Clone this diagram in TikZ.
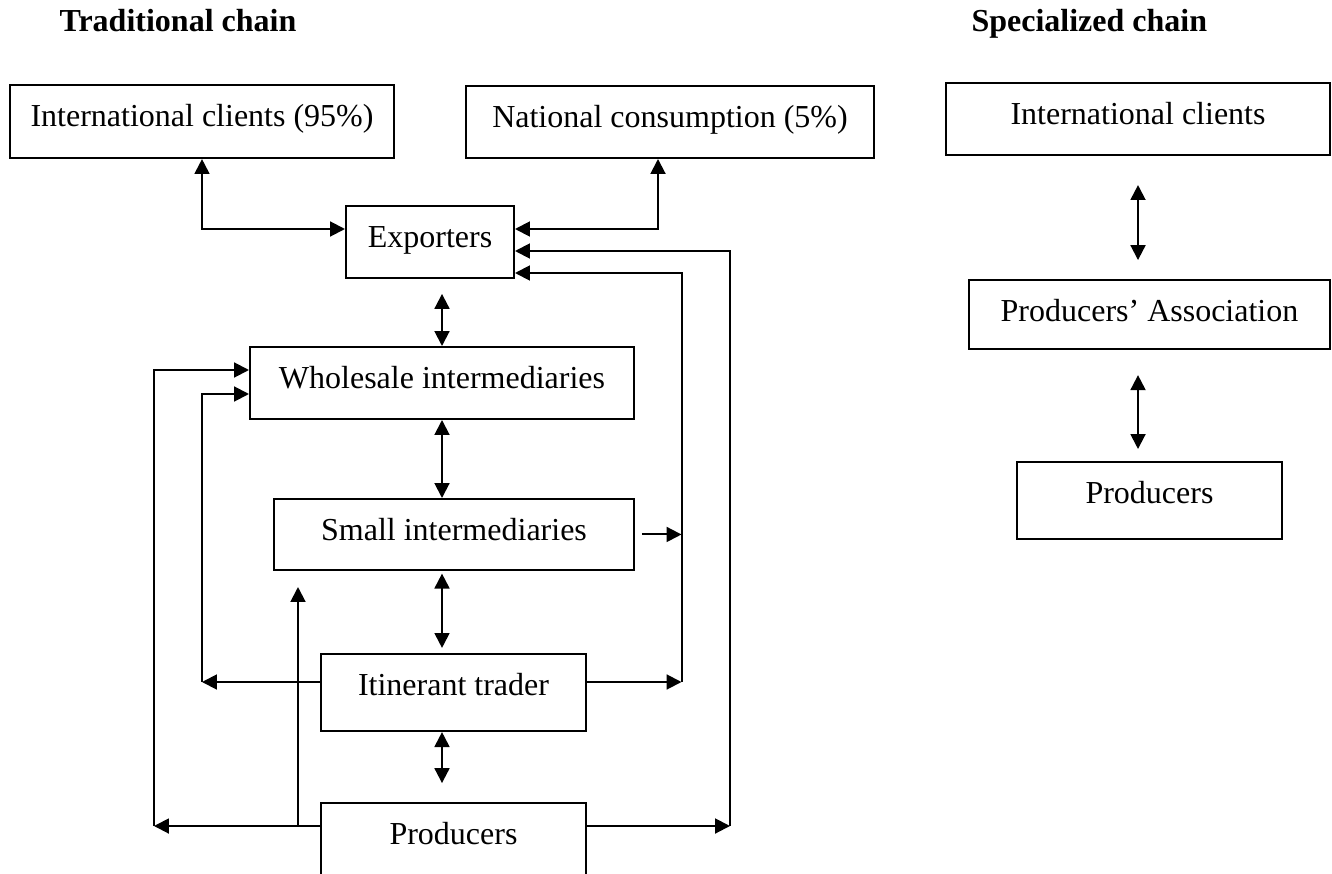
\documentclass[tikz,border=0pt]{standalone}
\usepackage{fontspec}
\setmainfont{Liberation Serif}
\usetikzlibrary{arrows.meta}

\tikzset{
    box/.style={draw, line width=0.75pt, inner sep=0pt, anchor=north, text height=15.6pt},
    link/.style={line width=0.75pt, >={Triangle[length=5.6pt,width=5.6pt]}},
    title/.style={anchor=base west, inner sep=0pt, font=\fontsize{12}{14}\selectfont\bfseries}
}

\begin{document}
\begin{tikzpicture}[x=0.375pt, y=-0.375pt, font=\fontsize{12}{14}\selectfont]
    \path[use as bounding box, clip] (0,0) rectangle (1332,873);

    % Titles
    \node[title] (tradtitle) at (59,32) {Traditional chain};
    \node[title] (spectitle) at (971,32) {Specialized chain};

    % Traditional chain
    \node[box, minimum width=144pt, text depth=11.8pt] (intl) at (202,84) {International clients (95\%)};
    \node[box, minimum width=153pt, text depth=11.4pt] (natl) at (670,85) {National consumption (5\%)};
    \node[box, minimum width=63pt, text depth=11.4pt] (exp) at (430,205) {Exporters};
    \node[box, minimum width=144pt, text depth=11.4pt] (whole) at (442,346) {Wholesale intermediaries};
    \node[box, minimum width=135pt, text depth=11.0pt] (small) at (454,498) {Small intermediaries};
    \node[box, minimum width=99.4pt, text depth=13.3pt] (itin) at (453.5,653) {Itinerant trader};
    \node[box, minimum width=99.4pt, text depth=20pt] (prodT) at (453.5,802) {Producers};

    % Specialized chain
    \node[box, minimum width=144pt, text depth=11.4pt] (intlS) at (1138,82) {International clients};
    \node[box, minimum width=135.4pt, text depth=10.3pt] (assoc) at (1149.5,279) {Producers’ Association};
    \node[box, minimum width=99.4pt, text depth=13.3pt] (prodS) at (1149.5,461) {Producers};

    % Clients and exporters
    \draw[link, <->] (intl.south) |- (exp.west |- 0,229);
    \draw[link, <->] (natl.south -| 658,0) |- (exp.east |- 0,229);

    % Main chain
    \draw[link, <->, shorten <=5.6pt] (exp.south -| whole.north) -- (whole.north);
    \draw[link, <->] (whole.south) -- (small.north -| whole.south);
    \draw[link, <->, shorten <=1pt, shorten >=1.9pt] (small.south -| whole.south) -- (itin.north -| whole.south);
    \draw[link, <->, shorten >=7.1pt] (itin.south -| whole.south) -- (prodT.north -| whole.south);

    % Side channels
    \coordinate (pr) at (730,826);
    \coordinate (pl) at (154,826);
    \coordinate (pu) at (298,826);
    \coordinate (pt) at (298,587);
    \coordinate (ir) at (681.5,682);
    \coordinate (il) at (202,682);
    \draw[link, ->] (prodT.east |- pr) -- (pr);
    \draw[link, ->] (pr) |- (exp.east |- 0,251);
    \draw[link, ->] (prodT.west |- pl) -- (pl);
    \draw[link, ->] (pl) |- (whole.west |- 0,370);
    \draw[link, ->] (pu) -- (pt);
    \draw[link, ->] (itin.east |- ir) -- (ir);
    \draw[link, ->] (ir) |- (exp.east |- 0,273);
    \draw[link, ->] (itin.west |- il) -- (il);
    \draw[link, ->] (il) |- (whole.west |- 0,394);
    \draw[link, ->, shorten <=2.6pt] (small.east) -- (small.east -| ir);

    % Specialized links
    \draw[link, <->, shorten <=10.9pt, shorten >=7.1pt] (intlS.south) -- (assoc.north -| intlS.south);
    \draw[link, <->, shorten <=9.4pt, shorten >=4.5pt] (assoc.south -| intlS.south) -- (prodS.north -| intlS.south);
\end{tikzpicture}
\end{document}
